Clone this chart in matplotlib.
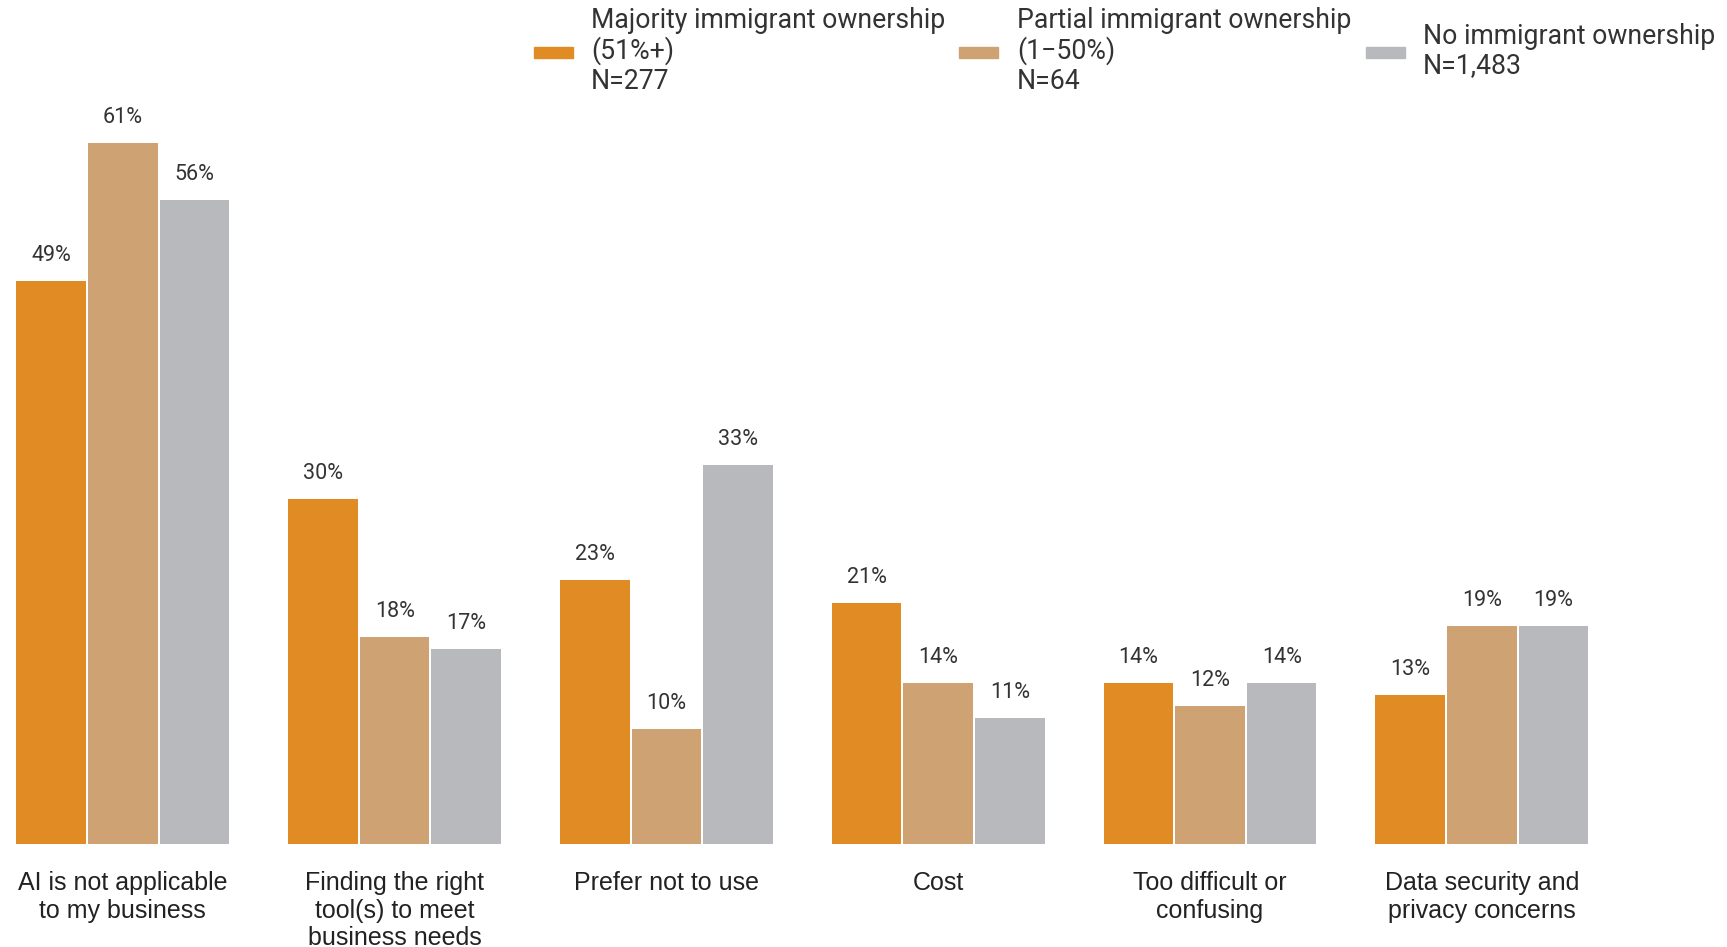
import matplotlib.pyplot as plt
from matplotlib.patches import Rectangle
import numpy as np

categories = ["AI is not applicable\nto my business",
              "Finding the right\ntool(s) to meet\nbusiness needs",
              "Prefer not to use",
              "Cost",
              "Too difficult or\nconfusing",
              "Data security and\nprivacy concerns"]
majority = [49, 30, 23, 21, 14, 13]
partial = [61, 18, 10, 14, 12, 19]
no_immig = [56, 17, 33, 11, 14, 19]
series_names = ["Majority immigrant ownership\n(51%+)\nN=277",
                "Partial immigrant ownership\n(1\u221250%)\nN=64",
                "No immigrant ownership\nN=1,483"]
colors = ["#E08B24", "#CEA272", "#B8B9BD"]

W, H = 1727, 947
fig = plt.figure(figsize=(W / 100, H / 100), dpi=100)
ax = fig.add_axes([0, 103 / H, 1, 1 - 103 / H])

x = np.arange(len(categories))
pitch = 0.2634
width = 0.256
for i, vals in enumerate([majority, partial, no_immig]):
    pos = x + (i - 1) * pitch
    ax.bar(pos, vals, width=width, color=colors[i])
    for px, v in zip(pos, vals):
        ax.annotate(f"{v}%", (px, v), xytext=(0, 10.5), textcoords="offset points",
                    ha="center", va="bottom", fontsize=15.5, family="Roboto",
                    color="#333333")

ax.set_xlim(-0.452, 5.902)
ax.set_ylim(0, 73.4)
ax.set_yticks([])
ax.set_xticks(x)
ax.set_xticklabels(categories, fontsize=18, family="Liberation Sans",
                   color="#222222", linespacing=1.18, va="top")
ax.tick_params(axis="x", length=0, pad=19.5)
for s in ax.spines.values():
    s.set_visible(False)

# legend drawn in figure pixels
leg_y = 1 - 52.5 / H
patch_x = [534, 959, 1366]
text_x = [591, 1017, 1423]
for px, tx, name, c in zip(patch_x, text_x, series_names, colors):
    fig.add_artist(Rectangle((px / W, leg_y - 5.5 / H), 39 / W, 11 / H,
                             transform=fig.transFigure, color=c))
    fig.text(tx / W, leg_y + 1.5 / H, name, ha="left", va="center", fontsize=19.2,
             family="Roboto", color="#333333", linespacing=1.1)

fig.savefig("out.png", dpi=100)
